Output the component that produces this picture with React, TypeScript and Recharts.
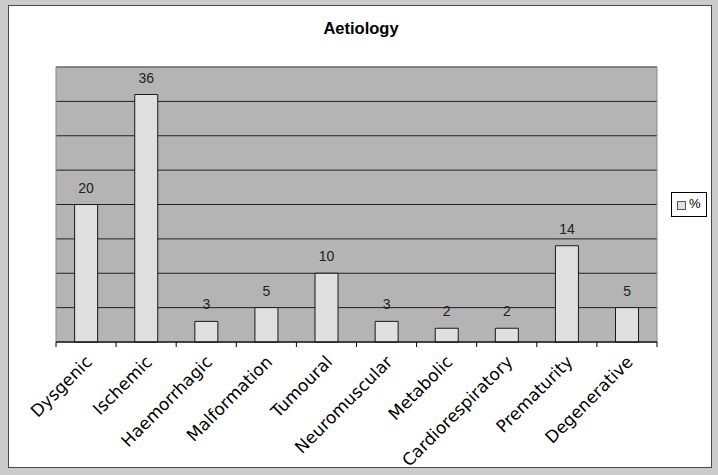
import { BarChart, Bar, XAxis, YAxis, CartesianGrid, LabelList, ReferenceArea } from 'recharts';

const CATEGORIES = [
  'Dysgenic',
  'Ischemic',
  'Haemorrhagic',
  'Malformation',
  'Tumoural',
  'Neuromuscular',
  'Metabolic',
  'Cardiorespiratory',
  'Prematurity',
  'Degenerative',
];
const PERCENT = [20, 36, 3, 5, 10, 3, 2, 2, 14, 5];
const Y_TICKS = [0, 5, 10, 15, 20, 25, 30, 35, 40];

const W = 718;
const H = 475;
const MARGIN = { top: 67, right: 61, bottom: 33, left: 56 };
const X_AXIS_H = 100;
const PLOT_W = W - MARGIN.left - MARGIN.right;
const STEP = PLOT_W / CATEGORIES.length;

const data = CATEGORIES.map((name, i) => ({ name, value: PERCENT[i] }));

// tick marks sit on the category borders, labels are slanted at 45°
function SlantTick(props: any) {
  const { x, y, payload, index } = props;
  const left = x - STEP / 2;
  const right = x + STEP / 2;
  const ax = x + 7;
  const ay = y + 21;
  return (
    <g>
      <line x1={left} y1={y} x2={left} y2={y + 5} stroke="#000" />
      {index === CATEGORIES.length - 1 && (
        <line x1={right} y1={y} x2={right} y2={y + 5} stroke="#000" />
      )}
      <text
        x={ax}
        y={ay}
        textAnchor="end"
        transform={`rotate(-45 ${ax} ${ay})`}
        fontFamily="'DejaVu Sans', Verdana, sans-serif"
        fontSize={17}
        fill="#000"
      >
        {payload.value}
      </text>
    </g>
  );
}

export default function App() {
  return (
    <div
      style={{
        position: 'absolute',
        left: 0,
        top: 0,
        width: W,
        height: H,
        background: '#cbcbcb',
        overflow: 'hidden',
      }}
    >
      {/* white chart panel */}
      <div
        style={{
          position: 'absolute',
          left: 8,
          top: 5,
          width: 704,
          height: 463,
          boxSizing: 'border-box',
          background: '#fff',
          border: '1px solid #4a4a4a',
        }}
      />
      <div
        style={{
          position: 'absolute',
          left: 2,
          top: 19,
          width: W,
          textAlign: 'center',
          fontFamily: 'Arial, "Liberation Sans", sans-serif',
          fontWeight: 'bold',
          fontSize: 16.5,
          color: '#000',
        }}
      >
        Aetiology
      </div>
      <div style={{ position: 'absolute', left: 0, top: 0 }}>
        <BarChart width={W} height={H} data={data} margin={MARGIN} barCategoryGap="31%">
          <CartesianGrid vertical={false} fill="#b4b4b4" stroke="#222" strokeOpacity={1} />
          <XAxis
            dataKey="name"
            interval={0}
            height={X_AXIS_H}
            tickSize={0}
            tickMargin={0}
            tickLine={false}
            axisLine={{ stroke: '#000' }}
            tick={<SlantTick />}
          />
          <YAxis hide domain={[0, 40]} ticks={Y_TICKS} />
          <ReferenceArea y1={0} y2={40} fill="none" stroke="#8a8a8a" />
          <Bar dataKey="value" name="%" fill="#e0e0e0" stroke="#1a1a1a" strokeWidth={1} isAnimationActive={false}>
            <LabelList
              dataKey="value"
              position="top"
              offset={12}
              fontSize={14}
              fill="#222"
              fontFamily="Arial, 'Liberation Sans', sans-serif"
            />
          </Bar>
        </BarChart>
      </div>
      {/* legend */}
      <div
        style={{
          position: 'absolute',
          left: 671,
          top: 192,
          width: 36,
          height: 25,
          boxSizing: 'border-box',
          border: '1px solid #000',
          background: '#fff',
        }}
      >
        <div
          style={{
            position: 'absolute',
            left: 5,
            top: 8,
            width: 9,
            height: 9,
            boxSizing: 'border-box',
            background: '#e0e0e0',
            border: '1px solid #555',
          }}
        />
        <div
          style={{
            position: 'absolute',
            left: 17,
            top: 3,
            fontFamily: 'Arial, "Liberation Sans", sans-serif',
            fontSize: 13,
            color: '#000',
          }}
        >
          %
        </div>
      </div>
    </div>
  );
}
